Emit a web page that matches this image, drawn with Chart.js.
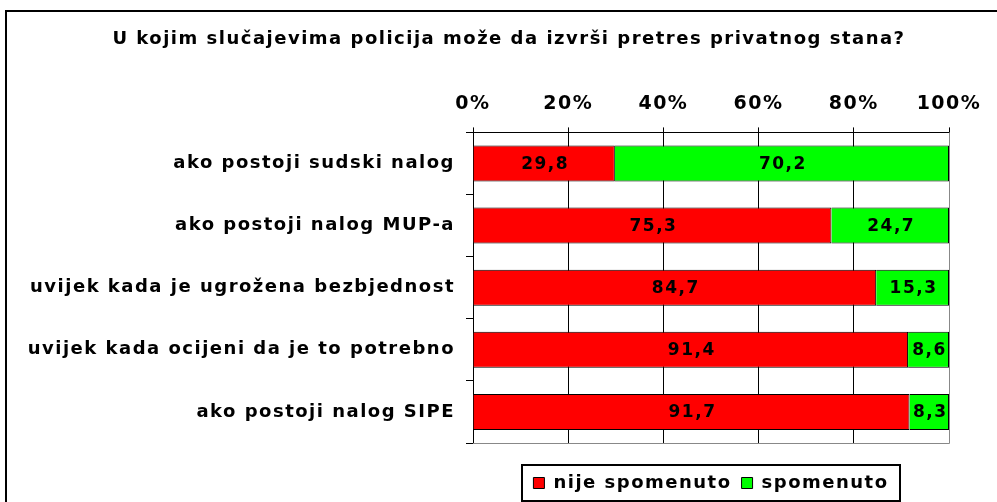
<!DOCTYPE html>
<html>
<head>
<meta charset="utf-8">
<script src="https://cdn.jsdelivr.net/npm/chart.js@4/dist/chart.umd.min.js"></script>
<style>
  html, body { margin: 0; padding: 0; background: #fff; overflow: hidden; }
  #frame { position: absolute; left: 5px; top: 10px; width: 1010px; height: 510px; border: 2px solid #000; box-sizing: border-box; }
  #wrap { position: absolute; left: 0; top: 0; width: 997px; height: 502px; }
</style>
</head>
<body>
<div id="frame"></div>
<div id="wrap"><canvas id="myChart"></canvas></div>
<script>
const categories = ['ako postoji sudski nalog', 'ako postoji nalog MUP-a', 'uvijek kada je ugrožena bezbjednost', 'uvijek kada ocijeni da je to potrebno', 'ako postoji nalog SIPE'];
const nijeSpomenuto = [29.8, 75.3, 84.7, 91.4, 91.7];
const spomenuto = [70.2, 24.7, 15.3, 8.6, 8.3];
const tickValues = [0, 20, 40, 60, 80, 100];

const FONT = "'DejaVu Sans', Verdana, sans-serif";
const SPACING = '1.5px';

// the original font is wider than DejaVu, so space the letters a bit
const spacing = {
  id: 'spacing',
  beforeUpdate(chart) { chart.ctx.letterSpacing = SPACING; },
  beforeDraw(chart) { chart.ctx.letterSpacing = SPACING; }
};

// writes the value into each bar, with a decimal comma
const valueLabels = {
  id: 'valueLabels',
  afterDatasetsDraw(chart) {
    const ctx = chart.ctx;
    ctx.save();
    ctx.font = 'bold 17px ' + FONT;
    ctx.letterSpacing = '1.5px';
    ctx.fillStyle = '#000';
    ctx.textAlign = 'center';
    ctx.textBaseline = 'middle';
    chart.data.datasets.forEach((ds, i) => {
      chart.getDatasetMeta(i).data.forEach((bar, j) => {
        const x = (bar.x + bar.base) / 2;
        ctx.fillText(ds.data[j].toFixed(1).replace('.', ','), x + 1, bar.y + 1);
      });
    });
    ctx.restore();
  }
};

// grey plot-area edge and the box round the legend
const frames = {
  id: 'frames',
  afterDraw(chart) {
    const ctx = chart.ctx, a = chart.chartArea, hb = chart.legend.legendHitBoxes;
    ctx.save();
    ctx.strokeStyle = '#888';
    ctx.lineWidth = 1;
    ctx.beginPath();
    ctx.moveTo(a.right + 0.5, a.top);
    ctx.lineTo(a.right + 0.5, a.bottom + 0.5);
    ctx.lineTo(a.left, a.bottom + 0.5);
    ctx.stroke();
    if (hb && hb.length) {
      const l = hb[0].left - 11, r = hb[hb.length - 1].left + hb[hb.length - 1].width + 12;
      const cy = hb[0].top + hb[0].height / 2;
      ctx.strokeStyle = '#000';
      ctx.lineWidth = 2;
      ctx.strokeRect(Math.round(l), Math.round(cy - 18), Math.round(r - l), 36);
    }
    ctx.restore();
  }
};

const config = {
  type: 'bar',
  data: {
    labels: categories,
    datasets: [
      { label: 'nije spomenuto', data: nijeSpomenuto, backgroundColor: '#ff0000', borderColor: '#000', borderWidth: 1, barPercentage: 0.58, categoryPercentage: 1 },
      { label: 'spomenuto', data: spomenuto, backgroundColor: '#00ff00', borderColor: '#000', borderWidth: 1, barPercentage: 0.58, categoryPercentage: 1 }
    ]
  },
  options: {
    indexAxis: 'y',
    responsive: true,
    maintainAspectRatio: false,
    animation: false,
    layout: { padding: { left: 20, right: -1, top: 0, bottom: 0 } },
    plugins: {
      title: {
        display: true,
        text: 'U kojim slučajevima policija može da izvrši pretres privatnog stana?',
        color: '#000',
        font: { family: FONT, size: 18, weight: 'bold' },
        padding: { top: 29, bottom: 30 }
      },
      legend: {
        position: 'bottom',
        fullSize: false,
        title: { display: true, text: ' ', font: { size: 10 }, padding: { top: 9, bottom: 0 } },
        labels: {
          color: '#000',
          font: { family: FONT, size: 18, weight: 'bold' },
          boxWidth: 11, boxHeight: 11,
          padding: 10,
          generateLabels(chart) {
            return chart.data.datasets.map((ds, i) => ({
              text: ds.label, fillStyle: ds.backgroundColor, strokeStyle: '#000', lineWidth: 1, datasetIndex: i, fontColor: '#000'
            }));
          }
        }
      },
      tooltip: { enabled: false }
    },
    scales: {
      x: {
        position: 'top',
        stacked: true,
        min: 0, max: 100,
        afterBuildTicks(scale) { scale.ticks = tickValues.map(v => ({ value: v })); },
        afterFit(scale) { scale.paddingRight = 48; },
        ticks: {
          color: '#000',
          font: { family: FONT, size: 19, weight: 'bold' },
          padding: 12,
          callback: v => v + '%'
        },
        grid: { color: '#000', lineWidth: 1, tickLength: 5 },
        border: { color: '#000', width: 1 }
      },
      y: {
        stacked: true,
        afterFit(scale) { scale.width = 453; },
        ticks: {
          color: '#000',
          font: { family: FONT, size: 18, weight: 'bold' },
          padding: 11
        },
        grid: { offset: true, drawOnChartArea: false, color: '#000', tickLength: 7 },
        border: { color: '#000', width: 1 }
      }
    }
  },
  plugins: [spacing, valueLabels, frames]
};

const myChart = new Chart(document.getElementById('myChart'), config);
</script>
</body>
</html>
